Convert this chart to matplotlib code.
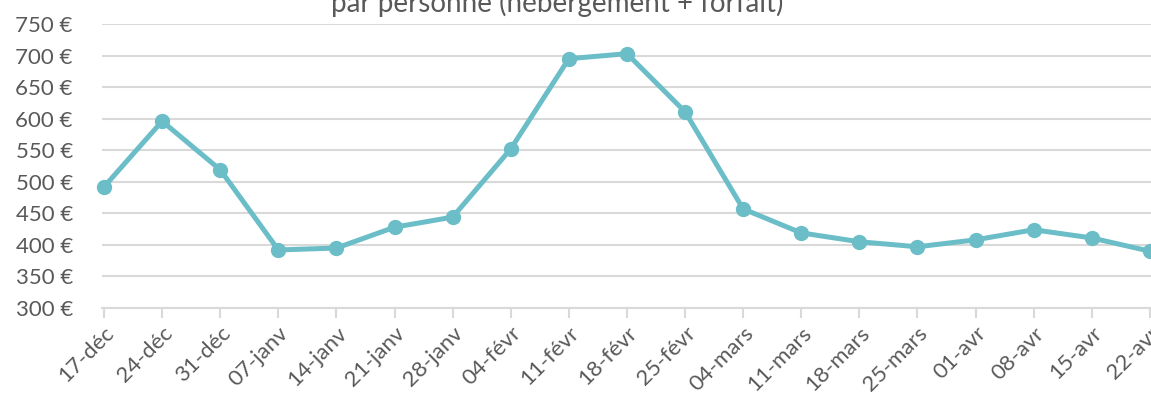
import matplotlib
matplotlib.use("Agg")
import matplotlib.pyplot as plt
from matplotlib.ticker import FuncFormatter

weeks = ["17-déc", "24-déc", "31-déc", "07-janv", "14-janv", "21-janv", "28-janv",
         "04-févr", "11-févr", "18-févr", "25-févr", "04-mars", "11-mars", "18-mars",
         "25-mars", "01-avr", "08-avr", "15-avr", "22-avr"]
prices = [492, 596, 519, 392, 395, 428, 444, 552, 695, 703, 611, 457, 419, 405,
          397, 408, 424, 411, 390]
yticks = list(range(300, 751, 50))

TEXT = "#595959"
GRID = "#D9D9D9"
LINE = "#6BBEC7"

plt.rcParams["font.family"] = ["Lato", "DejaVu Sans"]

fig = plt.figure(figsize=(11.51, 4.01), dpi=100)
W, H = 1151, 401
ax = fig.add_axes([102 / W, 1 - 308 / H, (1151 - 102) / W, (308 - 24) / H])

x = list(range(len(weeks)))
ax.plot(x, prices, color=LINE, linewidth=3.6, marker="o", markersize=10,
        solid_capstyle="round", clip_on=False, zorder=3)

ax.set_ylim(300, 750)
ax.set_xlim(-0.035, 18.02)
ax.set_yticks(yticks)
ax.yaxis.set_major_formatter(FuncFormatter(lambda v, _: f"{int(v)} €"))
ax.grid(axis="y", color=GRID, linewidth=1.5)
ax.set_axisbelow(True)
for s in ("top", "right", "left"):
    ax.spines[s].set_visible(False)
ax.spines["bottom"].set_color(GRID)
ax.spines["bottom"].set_linewidth(1.5)

ax.set_xticks(x)
ax.set_xticklabels(weeks, rotation=45, ha="right", rotation_mode="anchor")
ax.tick_params(axis="x", colors=GRID, length=7, width=1.5, labelcolor=TEXT,
               labelsize=16, pad=4)
ax.tick_params(axis="y", length=0, labelcolor=TEXT, labelsize=16, pad=21)

fig.text(557 / W, 1 - 12 / H, "par personne (hébergement + forfait)",
         ha="center", va="baseline", fontsize=20, color=TEXT)

fig.savefig("out.png", dpi=100)
